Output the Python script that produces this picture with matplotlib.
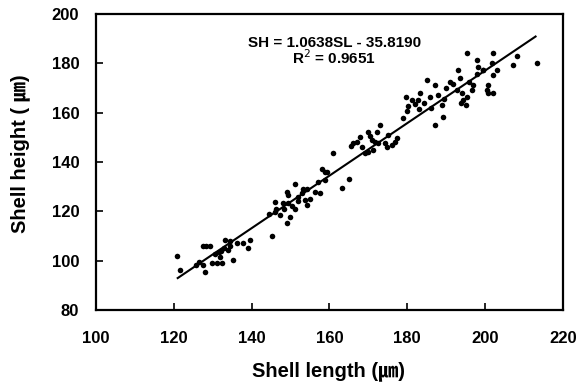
import matplotlib
matplotlib.use('Agg')
import matplotlib.pyplot as plt

# shell length / shell height readings (um)
shell_length = [
    120.8, 121.6, 127.5, 128.4, 129.3, 128.0, 127.5, 129.8, 131.0, 132.4,
    135.2, 130.5, 131.5, 132.2, 133.0, 133.8, 134.5, 131.8, 133.1, 134.4,
    136.2, 137.8, 139.1, 139.6, 126.5, 125.8,
    145.2, 149.0, 149.8, 151.1, 146.0, 146.3, 146.0, 148.0, 149.3, 149.0,
    149.3, 151.1, 151.9, 152.9, 153.2, 154.2, 153.7, 154.2, 155.0, 156.3,
    157.6, 157.0, 158.8, 158.0, 158.8, 147.2, 148.3, 150.5, 152.0, 144.5,
    160.9, 159.4, 165.0, 163.2, 169.1, 169.9, 166.0, 167.0, 167.8, 169.9,
    172.2, 173.0, 170.9, 171.7, 172.5, 174.3, 174.8, 176.1, 176.8, 177.3,
    178.9, 168.3, 171.2, 165.5, 170.5, 175.0,
    179.6, 181.2, 183.2, 182.7, 185.0, 187.1, 185.8, 187.9, 188.9, 189.2,
    187.1, 191.0, 193.0, 193.5, 192.8, 194.0, 194.3, 195.3, 195.3, 196.6,
    197.9, 198.2, 199.4, 200.5, 200.7, 201.7, 180.3, 182.0, 184.2, 186.0,
    190.0, 191.8, 196.0, 180.0, 183.0, 189.5,
    202.0, 208.2, 207.1, 213.3, 203.0, 202.0, 200.7, 202.0, 199.4, 198.0,
    193.8, 195.0, 197.0,
]
shell_height = [
    101.9, 96.2, 105.9, 105.9, 105.9, 95.4, 98.2, 99.0, 99.0, 99.0,
    100.3, 102.5, 103.5, 104.0, 105.0, 104.2, 106.0, 101.5, 108.4, 108.0,
    107.2, 107.2, 105.1, 108.4, 99.5, 98.0,
    110.0, 115.3, 117.7, 120.9, 119.7, 120.8, 123.8, 123.4, 123.4, 127.8,
    126.6, 131.1, 125.8, 127.4, 129.0, 129.0, 124.6, 122.6, 125.0, 127.8,
    127.4, 131.9, 132.7, 137.2, 136.0, 118.5, 121.0, 122.0, 124.0, 119.0,
    143.6, 135.9, 133.1, 129.5, 143.6, 144.0, 147.7, 148.1, 150.1, 152.2,
    152.2, 155.0, 148.9, 148.1, 147.7, 147.7, 146.1, 146.9, 148.1, 149.7,
    157.8, 146.1, 144.9, 146.5, 150.5, 151.0,
    166.3, 165.1, 168.0, 165.1, 173.2, 171.2, 166.3, 167.2, 163.1, 158.2,
    155.0, 172.4, 177.3, 174.0, 169.2, 168.0, 165.1, 166.3, 184.2, 169.2,
    181.3, 178.5, 177.3, 169.2, 168.0, 180.1, 162.8, 163.5, 164.0, 162.0,
    170.0, 171.5, 172.5, 160.5, 161.5, 165.5,
    184.2, 183.0, 179.3, 180.1, 177.3, 175.3, 171.2, 168.0, 177.3, 175.5,
    164.0, 163.0, 171.0,
]

# fitted line endpoints as drawn
fit_x = [121.0, 213.0]
fit_y = [92.9, 190.8]

xticks = [100, 120, 140, 160, 180, 200, 220]
yticks = [80, 100, 120, 140, 160, 180, 200]

fam = ['Liberation Sans', 'Noto Sans CJK JP', 'DejaVu Sans']
plt.rcParams['font.family'] = fam

fig = plt.figure(figsize=(5.82, 3.84), dpi=100)
ax = fig.add_axes([0.165, 0.193, 0.802, 0.771])

ax.plot(shell_length, shell_height, 'o', color='black', markersize=4,
        markeredgewidth=0)
ax.plot(fit_x, fit_y, '-', color='black', linewidth=1.5)

ax.set_xlim(100, 220)
ax.set_ylim(80, 200)
ax.set_xticks(xticks)
ax.set_yticks(yticks)
ax.tick_params(direction='in', length=5, width=1.2, labelsize=12)
ax.tick_params(axis='x', pad=15)
ax.tick_params(axis='y', pad=12)
for lbl in ax.get_xticklabels() + ax.get_yticklabels():
    lbl.set_fontweight('bold')
for sp in ax.spines.values():
    sp.set_linewidth(1.6)

fig.text(0.565, 0.034, 'Shell length (\u339b)', fontsize=14.5, fontweight='bold',
         ha='center', va='center')
fig.text(0.035, 0.6, 'Shell height ( \u339b)', fontsize=14.5, fontweight='bold',
         ha='center', va='center', rotation=90)

ax.text(161.2, 188.2, 'SH = 1.0638SL - 35.8190', ha='center', va='center',
        fontsize=11, fontweight='bold')
ax.text(161.2, 182.1, 'R$^2$ = 0.9651', ha='center', va='center',
        fontsize=11, fontweight='bold')

fig.savefig('out.png', dpi=100)
